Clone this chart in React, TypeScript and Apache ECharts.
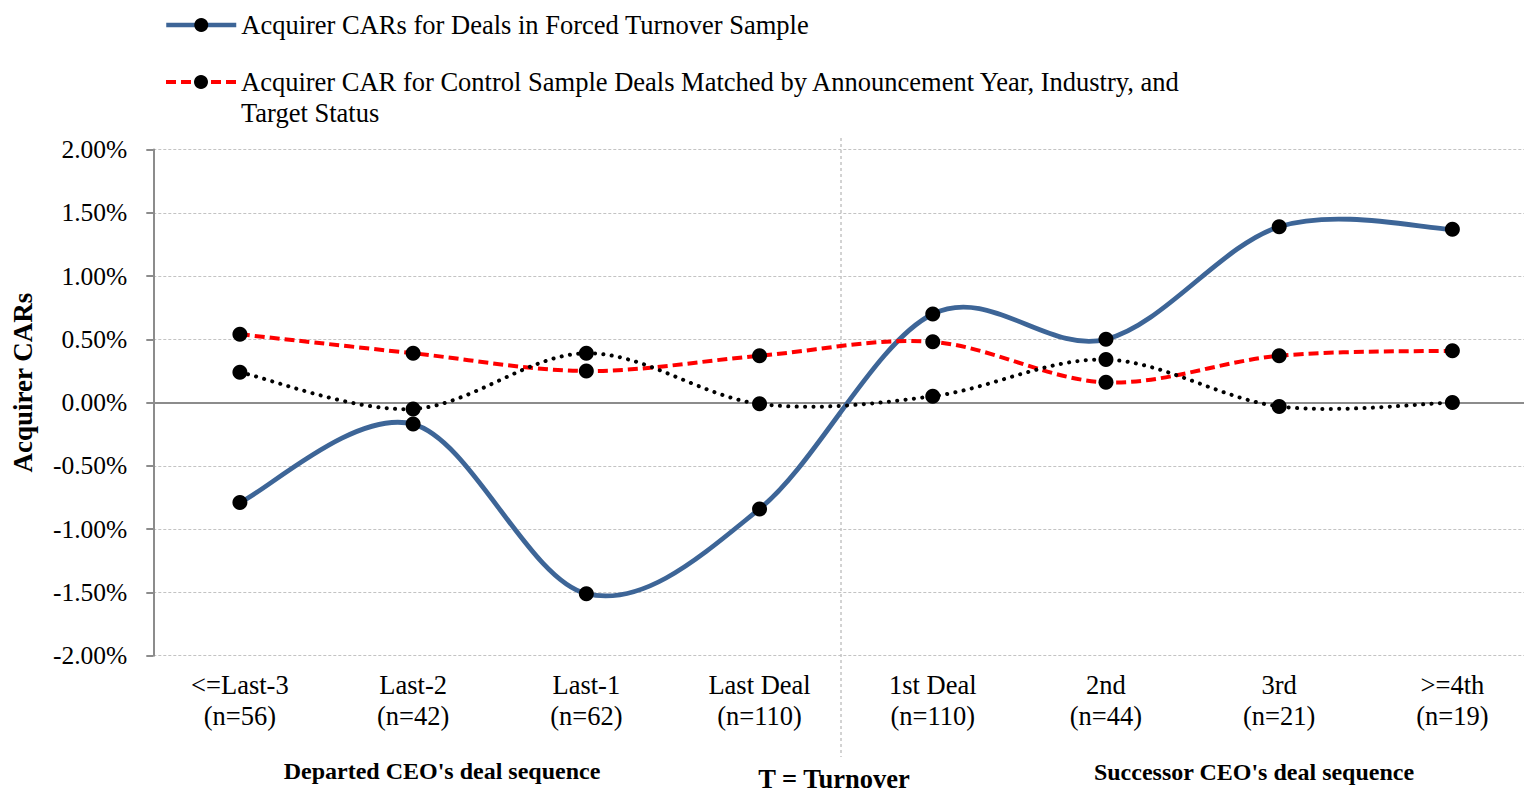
import React, { useEffect, useRef } from "react";
import * as echarts from "echarts";

const categories = ["<=Last-3", "Last-2", "Last-1", "Last Deal", "1st Deal", "2nd", "3rd", ">=4th"];
const sampleSizes = [56, 42, 62, 110, 110, 44, 21, 19];
const forcedCARs = [-0.79, -0.17, -1.51, -0.84, 0.70, 0.50, 1.39, 1.37];
const controlCARs = [0.54, 0.39, 0.25, 0.37, 0.48, 0.16, 0.37, 0.41];
const differenceCARs = [0.24, -0.05, 0.39, -0.01, 0.05, 0.34, -0.03, 0.00];
const yTicks = { min: -2, max: 2, interval: 0.5 };

const forcedName = "Acquirer CARs for Deals in Forced Turnover Sample";
const controlName =
  "Acquirer CAR for Control Sample Deals Matched by Announcement Year, Industry, and Target Status";
const diffName = "Difference";

const FONT = "'Liberation Serif', 'Times New Roman', serif";

const BLUE = "#3D6597";
const RED = "#ff0000";

// Catmull-Rom style smoothing (as in spreadsheet "smoothed line") built from axis coordinates
function curveSeries(name: string, values: number[], style: any, z: number) {
  return {
    name,
    type: "custom",
    coordinateSystem: "cartesian2d",
    data: values.map((v, i) => [i, v]),
    encode: { x: 0, y: 1 },
    z,
    silent: true,
    renderItem: (params: any, api: any) => {
      if (params.dataIndex !== 0) return null;
      const pts = values.map((v, i) => api.coord([i, v]));
      const n = pts.length;
      let d = `M ${pts[0][0]} ${pts[0][1]}`;
      for (let i = 0; i < n - 1; i++) {
        const p0 = pts[Math.max(i - 1, 0)];
        const p1 = pts[i];
        const p2 = pts[i + 1];
        const p3 = pts[Math.min(i + 2, n - 1)];
        const c1x = p1[0] + (p2[0] - p0[0]) / 6;
        const c1y = p1[1] + (p2[1] - p0[1]) / 6;
        const c2x = p2[0] - (p3[0] - p1[0]) / 6;
        const c2y = p2[1] - (p3[1] - p1[1]) / 6;
        d += ` C ${c1x} ${c1y} ${c2x} ${c2y} ${p2[0]} ${p2[1]}`;
      }
      return {
        type: "path",
        shape: { pathData: d },
        style: Object.assign({ fill: null }, style),
      };
    },
  };
}

function markerSeries(name: string, values: number[], z: number) {
  return {
    name,
    type: "line",
    data: values,
    symbol: "circle",
    symbolSize: 15,
    showSymbol: true,
    itemStyle: { color: "#000" },
    lineStyle: { width: 0, opacity: 0 },
    z,
  };
}

export default function App() {
  const ref = useRef<HTMLDivElement>(null);
  useEffect(() => {
    if (!ref.current) return;
    const chart = echarts.init(ref.current, null, { renderer: "svg" });
    const labels = categories.map((c, i) => `${c}\n(n=${sampleSizes[i]})`);
    const legendBase = {
      left: 164,
      padding: 0,
      itemWidth: 70,
      itemHeight: 17.5,
      selectedMode: false,
    };
    const option: any = {
      animation: false,
      backgroundColor: "#ffffff",
      textStyle: { fontFamily: FONT, color: "#000" },
      grid: { left: 153.3, top: 149.5, width: 1385.7, height: 506.2, containLabel: false },
      legend: [
        Object.assign({}, legendBase, {
          data: [forcedName],
          top: 9.5,
          lineStyle: { color: BLUE, width: 4.5, type: "solid", opacity: 1 },
          textStyle: { fontFamily: FONT, fontSize: 26.5, color: "#000", lineHeight: 31 },
        }),
        Object.assign({}, legendBase, {
          data: [controlName],
          top: 35.5,
          lineStyle: { color: RED, width: 4, type: [10, 5], opacity: 1 },
          formatter: (name: string) => "\n" + name.replace(", and ", ", and\n"),
          textStyle: { fontFamily: FONT, fontSize: 26.5, color: "#000", lineHeight: 31 },
        }),
      ],
      xAxis: [
        {
          type: "category",
          data: labels,
          boundaryGap: true,
          axisLine: { show: false, onZero: false },
          axisTick: { show: false },
          splitLine: { show: false },
          axisLabel: {
            interval: 0,
            margin: 14,
            fontFamily: FONT,
            fontSize: 26.5,
            lineHeight: 31,
            color: "#000",
          },
        },
        {
          type: "category",
          data: labels,
          position: "bottom",
          axisLine: { show: true, onZero: true, onZeroAxisIndex: 0, lineStyle: { color: "#8c8c8c", width: 2 } },
          axisTick: { show: false },
          axisLabel: { show: false },
          splitLine: { show: false },
        },
      ],
      yAxis: {
        type: "value",
        min: yTicks.min,
        max: yTicks.max,
        interval: yTicks.interval,
        name: "Acquirer CARs",
        nameLocation: "middle",
        nameGap: 117,
        nameTextStyle: {
          fontFamily: FONT,
          fontSize: 27,
          fontWeight: "bold",
          color: "#000",
          padding: [0, 0, 0, 40],
        },
        axisLine: { show: true, lineStyle: { color: "#8c8c8c", width: 2 } },
        axisTick: { show: true, length: 7, lineStyle: { color: "#8c8c8c", width: 2 } },
        axisLabel: {
          margin: 26,
          fontFamily: FONT,
          fontSize: 25.5,
          color: "#000",
          formatter: (v: number) => `${v.toFixed(2)}%`,
        },
        splitLine: { show: true, lineStyle: { color: "#c3c3c3", type: [3, 2], width: 1 } },
      },
      graphic: [
        {
          type: "line",
          shape: { x1: 841, y1: 138, x2: 841, y2: 757 },
          style: { stroke: "#a6a6a6", lineWidth: 1, lineDash: [3, 3] },
          z: 0,
        },
        {
          type: "text",
          x: 442,
          y: 771,
          style: {
            text: "Departed CEO's deal sequence",
            font: `bold 24px ${FONT}`,
            fill: "#000",
            align: "center",
            verticalAlign: "middle",
          },
        },
        {
          type: "text",
          x: 834,
          y: 779,
          style: {
            text: "T = Turnover",
            font: `bold 26.5px ${FONT}`,
            fill: "#000",
            align: "center",
            verticalAlign: "middle",
          },
        },
        {
          type: "text",
          x: 1254,
          y: 772,
          style: {
            text: "Successor CEO's deal sequence",
            font: `bold 24px ${FONT}`,
            fill: "#000",
            align: "center",
            verticalAlign: "middle",
          },
        },
      ],
      series: [
        curveSeries(forcedName + " (curve)", forcedCARs, { stroke: BLUE, lineWidth: 4.8 }, 2),
        curveSeries(controlName + " (curve)", controlCARs, { stroke: RED, lineWidth: 4, lineDash: [10, 5] }, 3),
        curveSeries(
          diffName + " (curve)",
          differenceCARs,
          { stroke: "#000", lineWidth: 4, lineDash: [0.1, 8.3], lineCap: "round" },
          4
        ),
        markerSeries(forcedName, forcedCARs, 10),
        markerSeries(controlName, controlCARs, 11),
        markerSeries(diffName, differenceCARs, 12),
      ],
    };
    chart.setOption(option);
    return () => chart.dispose();
  }, []);
  return (
    <div style={{ position: "absolute", left: 0, top: 0, width: 1524, height: 794, overflow: "hidden", background: "#fff" }}>
      <div ref={ref} style={{ width: 1560, height: 794 }} />
    </div>
  );
}
